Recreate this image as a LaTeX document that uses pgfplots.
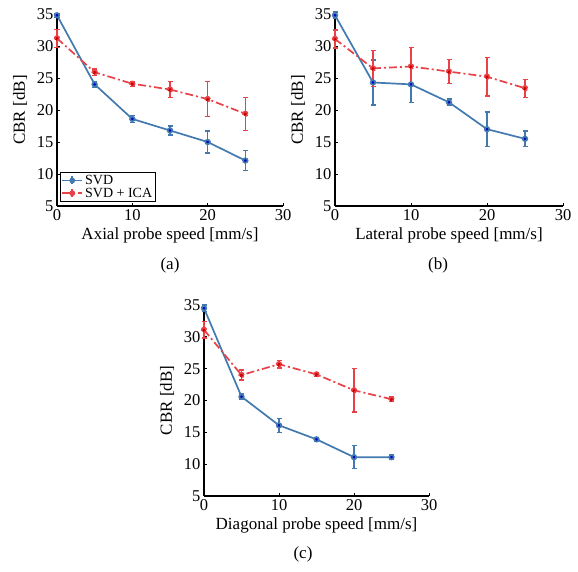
\documentclass[border=0pt]{standalone}
\usepackage{fontspec}
\setmainfont{Liberation Serif}
\usepackage{pgfplots}
\pgfplotsset{compat=1.18}
\definecolor{cblue}{RGB}{66,122,176}
\definecolor{cred}{RGB}{232,66,72}
\pgfplotsset{
  cbr/.style={
    scale only axis,
    xmin=0, xmax=30, ymin=5, ymax=35,
    xtick={0,10,20,30}, ytick={5,10,...,35},
    axis lines*=left,
    axis line style={line width=1.4pt},
    tick align=inside,
    major tick length=3pt,
    tick style={line width=0.8pt,black},
    /pgf/number format/assume math mode=true,
    tick label style={font=\fontsize{16.5}{18}\selectfont},
    label style={font=\fontsize{17}{19}\selectfont},
    ylabel={CBR [dB]},
    ylabel style={yshift=3pt},
    clip=false,
  },
  svd/.style={color=cblue, line width=1.7pt, solid, mark=*, mark size=2.3pt,
    error bars/.cd, y dir=both, y explicit,
    error bar style={line width=1.6pt, solid},
    error mark options={rotate=90, mark size=2.5pt, line width=1.3pt}},
  ica/.style={color=cred, line width=1.7pt, dash pattern=on 8pt off 3pt on 2pt off 3pt, mark=*, mark size=2.3pt,
    error bars/.cd, y dir=both, y explicit,
    error bar style={line width=1.6pt, solid},
    error mark options={rotate=90, mark size=2.5pt, line width=1.3pt}},
}
\begin{document}
\begin{tikzpicture}
\useasboundingbox (0,0) rectangle (578pt,572pt);
% (a)
\begin{axis}[cbr, at={(57pt,366pt)}, anchor=south west, width=226pt, height=192pt,
  xlabel={Axial probe speed [mm/s]},
  legend style={at={(0.013,0.02)}, anchor=south west, font=\fontsize{14}{15}\selectfont,
    draw=black, line width=1pt, inner sep=1pt, row sep=-2pt, cells={anchor=west}},
  legend image code/.code={
    \draw[#1] (0pt,0pt) -- (20pt,0pt);
    \draw[#1,solid,mark=none] (10pt,-4pt) -- (10pt,4pt);
    \fill[#1,solid] (10pt,0pt) circle (2pt);
  }]
\addplot+[svd] coordinates {
 (0,34.8) +- (0,0.3)
 (5,24.0) +- (0,0.5)
 (10,18.6) +- (0,0.5)
 (15,16.8) +- (0,0.7)
 (20,15.0) +- (0,1.7)
 (25,12.1) +- (0,1.6)
};
\addplot+[ica] coordinates {
 (0,31.2) +- (0,1.4)
 (5,25.9) +- (0,0.5)
 (10,24.1) +- (0,0.4)
 (15,23.2) +- (0,1.2)
 (20,21.7) +- (0,2.7)
 (25,19.4) +- (0,2.6)
};
\legend{SVD, SVD + ICA}
\end{axis}
% (b)
\begin{axis}[cbr, at={(335pt,366pt)}, anchor=south west, width=228pt, height=192pt,
  xlabel={Lateral probe speed [mm/s]}]
\addplot+[svd] coordinates {
 (0,34.8) +- (0,0.5)
 (5,24.3) +- (0,3.5)
 (10,24.0) +- (0,2.8)
 (15,21.2) +- (0,0.5)
 (20,17.0) +- (0,2.7)
 (25,15.5) +- (0,1.2)
};
\addplot+[ica] coordinates {
 (0,31.1) +- (0,1.4)
 (5,26.5) +- (0,2.8)
 (10,26.8) +- (0,3.0)
 (15,26.0) +- (0,1.9)
 (20,25.2) +- (0,3.0)
 (25,23.4) +- (0,1.4)
};
\end{axis}
% (c)
\begin{axis}[cbr, at={(204pt,76pt)}, anchor=south west, width=225pt, height=191pt,
  xlabel={Diagonal probe speed [mm/s]}]
\addplot+[svd] coordinates {
 (0,34.5) +- (0,0.5)
 (5,20.6) +- (0,0.4)
 (10,16.1) +- (0,1.1)
 (15,13.9) +- (0,0.3)
 (20,11.1) +- (0,1.8)
 (25,11.1) +- (0,0.4)
};
\addplot+[ica] coordinates {
 (0,31.1) +- (0,1.3)
 (5,24.0) +- (0,0.8)
 (10,25.7) +- (0,0.6)
 (15,24.1) +- (0,0.3)
 (20,21.6) +- (0,3.4)
 (25,20.2) +- (0,0.4)
};
\end{axis}
\node[font=\fontsize{17}{19}\selectfont] at (170pt,307pt) {(a)};
\node[font=\fontsize{17}{19}\selectfont] at (438pt,307pt) {(b)};
\node[font=\fontsize{17}{19}\selectfont] at (303pt,18pt) {(c)};
\end{tikzpicture}
\end{document}
